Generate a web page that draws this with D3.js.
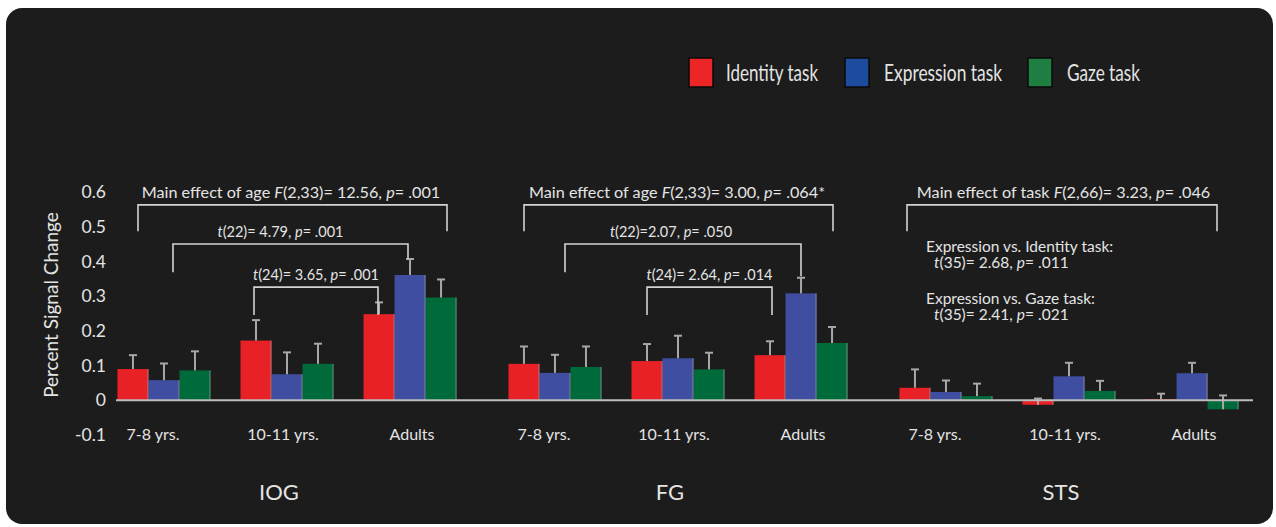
<!DOCTYPE html>
<html>
<head>
<meta charset="utf-8">
<script src="https://cdn.jsdelivr.net/npm/d3@7/dist/d3.min.js"></script>
<style>
  html, body { margin: 0; padding: 0; background: #ffffff; }
  svg { display: block; font-family: Lato, "Open Sans", sans-serif; }
</style>
</head>
<body>
<script>
// ---------------- DATA ----------------
const regions = ["IOG", "FG", "STS"];
const ages = ["7-8 yrs.", "10-11 yrs.", "Adults"];
const tasks = ["Identity task", "Expression task", "Gaze task"];

// order: IOG(7-8, 10-11, Adults), FG(...), STS(...)
const identityMean   = [0.090, 0.172, 0.248,  0.105, 0.113, 0.130,  0.036, -0.013, 0.003];
const identityErr    = [0.040, 0.059, 0.034,  0.050, 0.049, 0.040,  0.053,  0.018, 0.016];
const expressionMean = [0.058, 0.075, 0.361,  0.079, 0.121, 0.308,  0.024,  0.069, 0.078];
const expressionErr  = [0.048, 0.063, 0.046,  0.052, 0.065, 0.045,  0.033,  0.039, 0.030];
const gazeMean       = [0.086, 0.105, 0.296,  0.096, 0.089, 0.165,  0.012,  0.027, -0.026];
const gazeErr        = [0.055, 0.058, 0.052,  0.059, 0.048, 0.046,  0.036,  0.029,  0.040];

const yTickValues = [0.6, 0.5, 0.4, 0.3, 0.2, 0.1, 0, -0.1];
const yTickLabels = ["0.6", "0.5", "0.4", "0.3", "0.2", "0.1", "0", "-0.1"];

// statistical annotations (text; "_" toggles italics)
const mainEffectTexts = [
  "Main effect of age _F_(2,33)= 12.56, _p_= .001",
  "Main effect of age _F_(2,33)= 3.00, _p_= .064*",
  "Main effect of task _F_(2,66)= 3.23, _p_= .046"
];
const t22Texts = ["_t_(22)= 4.79, _p_= .001", "_t_(22)=2.07, _p_= .050"];
const t24Texts = ["_t_(24)= 3.65, _p_= .001", "_t_(24)= 2.64, _p_= .014"];
const stsContrastTexts = [
  ["Expression vs. Identity task:", "_t_(35)= 2.68, _p_= .011"],
  ["Expression vs. Gaze task:", "_t_(35)= 2.41, _p_= .021"]
];

// ---------------- BUILD ----------------
const means = [identityMean, expressionMean, gazeMean];
const errs = [identityErr, expressionErr, gazeErr];
const rows = [];
regions.forEach((r, ri) => ages.forEach((a, ai) => tasks.forEach((t, ti) => {
  const k = ri * 3 + ai;
  rows.push({ region: r, age: a, task: t, value: means[ti][k], err: errs[ti][k] });
})));

const W = 1276, H = 527;
const svg = d3.select("body").append("svg").attr("width", W).attr("height", H);

// dark panel
svg.append("rect").attr("x", 6).attr("y", 8).attr("width", 1267).attr("height", 516)
  .attr("rx", 16).attr("fill", "#1c1c1c");

const barColor = d3.scaleOrdinal().domain(tasks).range(["#e82127", "#3f4ea1", "#006b3a"]);
const legendColor = d3.scaleOrdinal().domain(tasks).range(["#ec2626", "#1d4b9e", "#1f7e41"]);

const xRegion = d3.scaleBand().domain(regions).range([91.5, 1264.5]).paddingInner(0).paddingOuter(0);
const xAge = d3.scaleBand().domain(ages).range([0, xRegion.bandwidth()]).paddingInner(0.244).paddingOuter(0.211);
const xTask = d3.scaleBand().domain(tasks).range([0, xAge.bandwidth()]).padding(0);
const y = d3.scaleLinear().domain([-0.1, 0.6]).range([435, 192]);

const textColor = "#e4e4e4";
const lineColor = "#d2d2d2";

// Y axis (labels only)
const yAxis = svg.append("g").attr("transform", "translate(106,0)")
  .call(d3.axisLeft(y).tickValues(yTickValues).tickSize(0).tickPadding(0)
    .tickFormat((d, i) => yTickLabels[i]));
yAxis.select(".domain").remove();
yAxis.selectAll("text").attr("fill", textColor).attr("font-size", 17.5).attr("font-family", "Lato");

svg.append("text")
  .attr("transform", `translate(58,${305}) rotate(-90)`)
  .attr("text-anchor", "middle").attr("fill", textColor)
  .attr("font-size", 19).text("Percent Signal Change");

// bars
const barsG = svg.append("g");
const bx = d => xRegion(d.region) + xAge(d.age) + xTask(d.task);
barsG.selectAll("rect.bar").data(rows).join("rect").attr("class", "bar")
  .attr("x", bx)
  .attr("width", xTask.bandwidth())
  .attr("y", d => y(Math.max(0, d.value)))
  .attr("height", d => Math.max(0.8, Math.abs(y(d.value) - y(0))))
  .attr("fill", d => barColor(d.task));
// subtle light edge on right side of bars
barsG.selectAll("line.edge").data(rows).join("line").attr("class", "edge")
  .attr("x1", d => bx(d) + xTask.bandwidth() - 0.5).attr("x2", d => bx(d) + xTask.bandwidth() - 0.5)
  .attr("y1", d => y(0)).attr("y2", d => y(d.value))
  .attr("stroke", "#9c9c9c").attr("stroke-width", 1).attr("opacity", 0.7);

// error bars
const errG = svg.append("g").attr("stroke", "#a8a8a8").attr("stroke-width", 2);
errG.selectAll("line.v").data(rows).join("line").attr("class", "v")
  .attr("x1", d => bx(d) + xTask.bandwidth() / 2).attr("x2", d => bx(d) + xTask.bandwidth() / 2)
  .attr("y1", d => y(d.value)).attr("y2", d => y(d.value + d.err));
errG.selectAll("line.c").data(rows).join("line").attr("class", "c")
  .attr("x1", d => bx(d) + xTask.bandwidth() / 2 - 4).attr("x2", d => bx(d) + xTask.bandwidth() / 2 + 4)
  .attr("y1", d => y(d.value + d.err)).attr("y2", d => y(d.value + d.err));

// zero baseline
svg.append("line").attr("x1", 116).attr("x2", 1253).attr("y1", y(0)).attr("y2", y(0))
  .attr("stroke", "#bdbdbd").attr("stroke-width", 2);

// category axes
const ageLabelDx = [-11, -4, 2];
regions.forEach(r => {
  const g = svg.append("g").attr("transform", `translate(${xRegion(r)},425)`)
    .call(d3.axisBottom(xAge).tickSize(0).tickPadding(4));
  g.select(".domain").remove();
  g.selectAll("text").attr("fill", textColor).attr("font-size", 16).attr("font-family", "Lato")
    .attr("dx", (d, i) => ageLabelDx[i]);
  svg.append("text").attr("x", xRegion(r) + xRegion.bandwidth() / 2 - 8).attr("y", 500)
    .attr("text-anchor", "middle").attr("fill", textColor).attr("font-size", 22).text(r);
});

// legend
const legendX = [689, 845, 1028];
const legendTextX = [726, 884, 1067];
const legendLen = [92, 118, 73];
const lg = svg.append("g");
tasks.forEach((t, i) => {
  lg.append("rect").attr("x", legendX[i]).attr("y", 58).attr("width", 24).attr("height", 29)
    .attr("fill", legendColor(t)).attr("stroke", "#0a0a0a").attr("stroke-width", 1.5);
  lg.append("text").attr("x", legendTextX[i]).attr("y", 81).attr("fill", textColor)
    .attr("font-size", 22.5).attr("textLength", legendLen[i]).attr("lengthAdjust", "spacingAndGlyphs")
    .text(t);
});

// helper for rich text
function richText(sel, str) {
  str.split("_").forEach((part, i) => {
    sel.append("tspan").attr("font-style", i % 2 ? "italic" : "normal").text(part);
  });
}

// brackets
function bracket(region, x1, x2, yTop, yL, yR, label, labelDx, fs) {
  const ox = xRegion(region);
  const X1 = ox + x1, X2 = ox + x2;
  svg.append("path")
    .attr("d", `M${X1},${y(yL)}V${y(yTop)}H${X2}V${y(yR)}`)
    .attr("fill", "none").attr("stroke", lineColor).attr("stroke-width", 1.6);
  const t = svg.append("text").attr("x", (X1 + X2) / 2 + (labelDx || 0)).attr("y", y(yTop) - 7)
    .attr("text-anchor", "middle").attr("fill", textColor).attr("font-size", fs)
    .attr("xml:space", "preserve");
  richText(t, label);
}

const mainTop = 0.563, mainLeg = 0.487;
bracket("IOG", 46.5, 355.5, mainTop, mainLeg, mainLeg, mainEffectTexts[0], -1.5, 16.2);
bracket("FG", 41.5, 350.5, mainTop, mainLeg, mainLeg, mainEffectTexts[1], -1.5, 16.2);
bracket("STS", 33.5, 343.5, mainTop, mainLeg, mainLeg, mainEffectTexts[2], 1.5, 16.2);

bracket("IOG", 81.5, 316.5, 0.450, 0.369, 0.407, t22Texts[0], -10, 14.5);
bracket("FG", 82.5, 318.5, 0.450, 0.369, 0.357, t22Texts[1], -12, 14.5);
bracket("IOG", 162.5, 286.5, 0.326, 0.246, 0.246, t24Texts[0], 0, 14.5);
bracket("FG", 164.5, 289.5, 0.326, 0.246, 0.246, t24Texts[1], 0, 14.5);

// STS contrasts (two lines per text block)
const stsBaseY = [0.428, 0.278];
stsContrastTexts.forEach((lines, i) => {
  const t = svg.append("text").attr("y", y(stsBaseY[i]))
    .attr("fill", textColor).attr("font-size", 15.5).attr("xml:space", "preserve");
  lines.forEach((s, j) => {
    const line = t.append("tspan").attr("x", xRegion("STS") + (j ? 60.5 : 52.5))
      .attr("dy", j ? 16 : 0);
    s.split("_").forEach((part, k) => {
      line.append("tspan").attr("font-style", k % 2 ? "italic" : "normal").text(part);
    });
  });
});
</script>
</body>
</html>
